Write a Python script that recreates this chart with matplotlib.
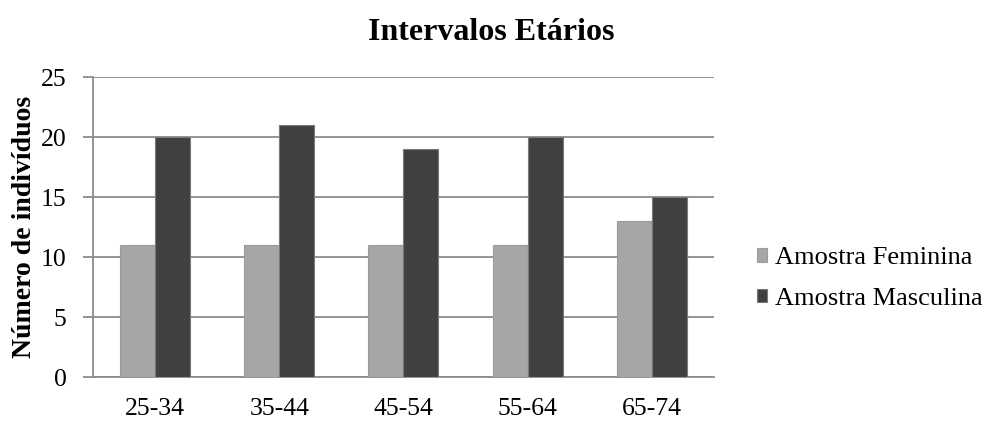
import matplotlib.pyplot as plt
import numpy as np

plt.rcParams['font.family'] = ['Liberation Serif', 'DejaVu Serif']

faixas = ['25-34', '35-44', '45-54', '55-64', '65-74']
feminina = [11, 11, 11, 11, 13]
masculina = [20, 21, 19, 20, 15]

fig = plt.figure(figsize=(9.9, 4.21), dpi=100)
ax = fig.add_axes([0.094, 0.1045, 0.627, 0.7125])

x = np.arange(len(faixas))
w = 0.282
ax.bar(x - w/2, feminina, w, color='#a6a6a6', edgecolor='#9a9a9a', linewidth=0.8,
       label='Amostra Feminina', zorder=3)
ax.bar(x + w/2, masculina, w, color='#404040', edgecolor='#7a7a7a', linewidth=0.8,
       label='Amostra Masculina', zorder=3)

ax.set_xlim(-0.5, len(faixas) - 0.5)
ax.set_ylim(0, 25)
ax.set_yticks(range(0, 26, 5))
ax.set_xticks(x)
ax.set_xticklabels(faixas)
ax.grid(axis='y', color='#8c8c8c', linewidth=1.3, zorder=0)
ax.tick_params(axis='y', length=7, width=1.3, color='#8c8c8c', labelsize=18.5, pad=12)
ax.tick_params(axis='x', length=0, labelsize=18.5, pad=15)
for s in ['top', 'right']:
    ax.spines[s].set_visible(False)
for s in ['left', 'bottom']:
    ax.spines[s].set_color('#8c8c8c')
    ax.spines[s].set_linewidth(1.3)

ax.set_ylabel('Número de indivíduos', fontsize=20, fontweight='bold')
ax.yaxis.set_label_coords(-0.091, 0.5)
fig.text(0.496, 0.922, 'Intervalos Etários', fontsize=23, fontweight='bold',
         ha='center', va='center')

ax.legend(loc='center left', bbox_to_anchor=(1.069, 0.328), frameon=False, fontsize=19,
          handlelength=0.4, handleheight=0.4, handletextpad=0.3, labelspacing=0.7,
          borderpad=0, borderaxespad=0)

fig.savefig('out.png', dpi=100)
